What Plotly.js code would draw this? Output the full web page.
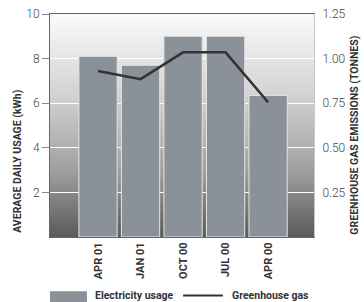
<!DOCTYPE html>
<html>
<head>
<meta charset="utf-8">
<script src="https://cdn.plot.ly/plotly-3.0.1.min.js"></script>
<style>html,body{margin:0;padding:0;background:#fff;}#chart{width:364px;height:302px;}</style>
</head>
<body>
<div id="chart"></div>
<script>
var categories = ["APR 01", "JAN 01", "OCT 00", "JUL 00", "APR 00"];
var electricityUsage = [8.1, 7.7, 9.0, 9.0, 6.35];
var greenhouseGas = [0.93, 0.885, 1.035, 1.035, 0.755];
var leftTicks = [2, 4, 6, 8, 10];
var rightTicks = [0.25, 0.5, 0.75, 1.0, 1.25];
var rightTickLabels = ["0.25", "0.50", "0.75", "1.00", "1.25"];

var narrow = "Roboto, Liberation Sans Narrow, sans-serif";

var svg = '<svg xmlns="http://www.w3.org/2000/svg" width="100" height="100" preserveAspectRatio="none">' +
  '<defs><linearGradient id="g" x1="0" y1="0" x2="0" y2="1">' +
  '<stop offset="0" stop-color="#fbfbfb"/><stop offset="0.35" stop-color="#d4d4d4"/>' +
  '<stop offset="0.7" stop-color="#a0a0a0"/><stop offset="1" stop-color="#5a5a5a"/>' +
  '</linearGradient></defs><rect width="100" height="100" fill="url(#g)"/></svg>';
var bgSrc = "data:image/svg+xml;charset=utf-8," + encodeURIComponent(svg);

var traces = [
  {
    type: "bar",
    x: categories,
    y: electricityUsage,
    width: 0.9,
    marker: { color: "#8a9199", line: { color: "#e4e4e4", width: 1 } },
    name: "Electricity usage",
    showlegend: false,
    hoverinfo: "x+y"
  },
  {
    type: "scatter",
    mode: "lines",
    x: categories,
    y: greenhouseGas,
    yaxis: "y2",
    line: { color: "#333333", width: 2.5 },
    name: "Greenhouse gas",
    showlegend: false,
    hoverinfo: "x+y"
  }
];

var layout = {
  width: 364,
  height: 302,
  margin: { l: 50, r: 50, t: 14, b: 65, pad: 0 },
  paper_bgcolor: "#ffffff",
  plot_bgcolor: "rgba(0,0,0,0)",
  showlegend: false,
  font: { family: narrow, color: "#333" },
  images: [{
    source: bgSrc, xref: "paper", yref: "paper", x: 0, y: 1,
    sizex: 1, sizey: 1, sizing: "stretch", layer: "below",
    xanchor: "left", yanchor: "top"
  }],
  xaxis: {
    type: "category",
    range: [-1.13, 5.08],
    showgrid: false,
    showline: true,
    mirror: true,
    linecolor: "#666",
    linewidth: 1,
    ticks: "",
    tickangle: -90,
    tickfont: { family: narrow, size: 11, color: "#333", weight: "bold" },
    zeroline: false,
    fixedrange: true
  },
  yaxis: {
    range: [0, 10],
    tickvals: leftTicks,
    ticktext: leftTicks.map(String),
    showgrid: true,
    gridcolor: "#ffffff",
    gridwidth: 1,
    showline: true,
    linecolor: "#666",
    linewidth: 1,
    ticks: "outside",
    ticklen: 7,
    tickcolor: "#888",
    tickfont: { family: narrow, size: 12, color: "#444", weight: 300 },
    zeroline: false,
    fixedrange: true
  },
  yaxis2: {
    overlaying: "y",
    side: "right",
    range: [0, 1.25],
    tickvals: rightTicks,
    ticktext: rightTickLabels,
    showgrid: false,
    showline: true,
    linecolor: "#c8c8c8",
    linewidth: 1,
    ticks: "outside",
    ticklen: 5,
    tickcolor: "rgba(0,0,0,0)",
    tickfont: { family: narrow, size: 12, color: "#444", weight: 300 },
    zeroline: false,
    fixedrange: true
  },
  annotations: [
    {
      text: "AVERAGE DAILY USAGE (kWh)", xref: "paper", yref: "paper",
      x: -0.121, y: 0.008, xanchor: "center", yanchor: "bottom", textangle: -90,
      showarrow: false, font: { family: narrow, size: 10.5, color: "#333", weight: "bold" }
    },
    {
      text: "GREENHOUSE GAS EMISSIONS (TONNES)", xref: "paper", yref: "paper",
      x: 1.152, y: 0.0, xanchor: "center", yanchor: "bottom", textangle: -90,
      showarrow: false, font: { family: narrow, size: 10.5, color: "#333", weight: "bold" }
    },
    {
      text: "Electricity usage", xref: "paper", yref: "paper",
      x: 0.163, y: -0.262, xanchor: "left", yanchor: "middle",
      showarrow: false, font: { family: narrow, size: 10.5, color: "#333", weight: "bold" }
    },
    {
      text: "Greenhouse gas", xref: "paper", yref: "paper",
      x: 0.68, y: -0.262, xanchor: "left", yanchor: "middle",
      showarrow: false, font: { family: narrow, size: 10.5, color: "#333", weight: "bold" }
    }
  ],
  shapes: [
    {
      type: "rect", xref: "paper", yref: "paper",
      x0: 0.0, x1: 0.14, y0: -0.243, y1: -0.30,
      fillcolor: "#8a9199", line: { width: 0 }
    },
    {
      type: "line", xref: "paper", yref: "paper",
      x0: 0.504, x1: 0.655, y0: -0.262, y1: -0.262,
      line: { color: "#333333", width: 2 }
    }
  ]
};

Plotly.newPlot("chart", traces, layout, { displayModeBar: false, staticPlot: true });
</script>
</body>
</html>
